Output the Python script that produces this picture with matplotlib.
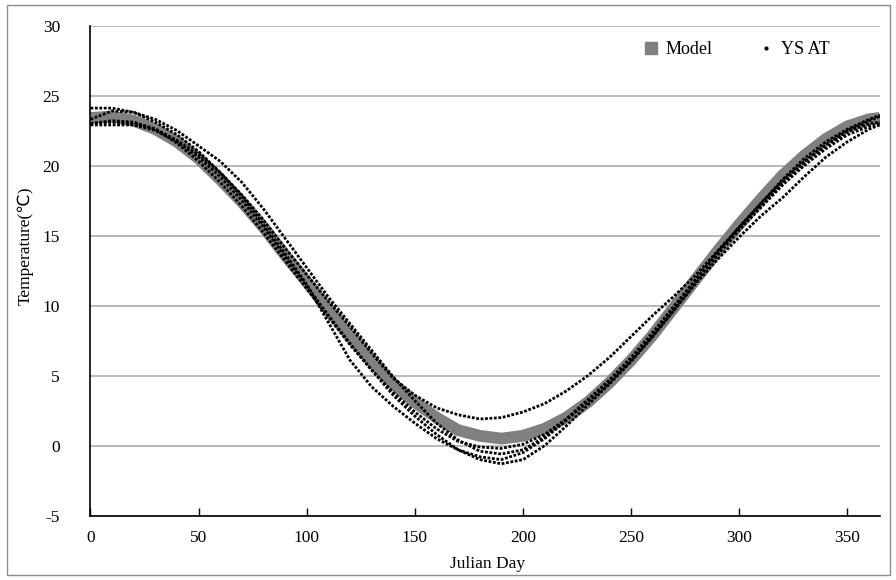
import matplotlib
matplotlib.use("Agg")
import matplotlib.pyplot as plt
from matplotlib.lines import Line2D
from matplotlib.patches import Rectangle

plt.rcParams['font.family'] = ['Liberation Serif', 'DejaVu Sans']
plt.rcParams['axes.unicode_minus'] = False

# Julian day sampling (read every 10 days off the picture)
days = [0, 10, 20, 30, 40, 50, 60, 70, 80, 90, 100, 110, 120, 130, 140, 150, 160, 170, 180,
        190, 200, 210, 220, 230, 240, 250, 260, 270, 280, 290, 300, 310, 320, 330, 340, 350, 360, 365]

model = [23.4, 23.5, 23.2, 22.6, 21.7, 20.5, 19.0, 17.4, 15.6, 13.6, 11.7, 9.7, 7.8, 6.0, 4.4, 3.1, 2.0, 1.1, 0.7,
         0.5, 0.7, 1.2, 2.0, 3.1, 4.5, 6.1, 7.9, 9.9, 11.9, 13.9, 15.8, 17.6, 19.3, 20.7, 21.9, 22.8, 23.3, 23.4]

# observed (YS AT), one list per year
obs1 = [23.0, 23.1, 23.0, 22.6, 21.8, 20.8, 19.5, 17.9, 16.1, 14.1, 12.2, 10.3, 8.5, 6.6, 4.8, 3.6, 2.7, 2.2, 1.9,
        2.0, 2.4, 3.0, 3.9, 5.0, 6.3, 7.8, 9.3, 10.7, 12.2, 13.9, 15.6, 17.3, 19.0, 20.5, 21.7, 22.6, 23.3, 23.6]
obs2 = [24.1, 24.1, 23.8, 23.1, 22.2, 21.0, 19.5, 17.8, 15.8, 13.7, 11.5, 8.8, 6.1, 4.2, 2.8, 1.6, 0.5, -0.3, -0.8,
        -1.0, -0.5, 0.5, 1.8, 3.2, 4.6, 6.1, 7.8, 9.7, 11.7, 13.6, 15.4, 17.0, 18.6, 20.0, 21.2, 22.2, 22.8, 23.0]
obs3 = [22.9, 22.9, 22.9, 22.5, 21.7, 20.6, 19.2, 17.5, 15.6, 13.5, 11.4, 9.3, 7.3, 5.4, 3.6, 2.1, 0.8, -0.3, -1.0,
        -1.3, -1.0, 0.0, 1.4, 2.9, 4.4, 6.0, 7.8, 9.7, 11.6, 13.3, 14.9, 16.4, 17.7, 19.2, 20.6, 21.7, 22.6, 22.9]
obs4 = [23.3, 23.9, 23.8, 23.3, 22.5, 21.4, 20.3, 18.8, 16.9, 14.8, 12.7, 10.6, 8.7, 6.8, 4.9, 3.2, 1.6, 0.4, -0.4,
        -0.6, -0.3, 0.6, 1.9, 3.3, 4.7, 6.3, 8.1, 10.0, 11.9, 13.8, 15.6, 17.2, 18.8, 20.2, 21.4, 22.4, 23.0, 23.1]
obs5 = [23.0, 23.2, 23.1, 22.6, 21.6, 20.3, 18.8, 17.1, 15.2, 13.2, 11.2, 9.2, 7.2, 5.4, 3.8, 2.4, 1.2, 0.3, -0.1,
        -0.2, 0.1, 0.8, 1.9, 3.1, 4.5, 6.1, 7.9, 9.9, 11.9, 13.8, 15.6, 17.3, 18.9, 20.3, 21.5, 22.5, 23.2, 23.5]

fig = plt.figure(figsize=(8.96, 5.80), dpi=100)
ax = fig.add_axes([0.101, 0.111, 0.881, 0.845])

# outer chart border
fig.patches.append(Rectangle((0.008, 0.009), 0.985, 0.982, transform=fig.transFigure,
                             fill=False, edgecolor='#8c8c8c', linewidth=1.0))

ax.plot(days, model, color='#808080', linewidth=8.5, solid_capstyle='butt', zorder=2)
for obs in [obs1, obs2, obs3, obs4, obs5]:
    ax.plot(days, obs, color='black', linewidth=2.0, linestyle=(0, (1, 0.6)), zorder=3)

ax.set_xlim(0, 365)
ax.set_ylim(-5, 30)
ax.set_xticks(range(0, 351, 50))
ax.set_yticks(range(-5, 31, 5))
ax.grid(axis='y', color='#ababab', linewidth=1.2)
ax.set_axisbelow(True)
for s in ['top', 'right']:
    ax.spines[s].set_visible(False)
for s in ['left', 'bottom']:
    ax.spines[s].set_linewidth(1.2)
ax.tick_params(axis='x', direction='in', length=6, width=1, pad=10, labelsize=12.5)
ax.tick_params(axis='y', length=0, pad=22, labelsize=12.5)

ax.set_xlabel("Julian Day", fontsize=12.5)
ax.xaxis.set_label_coords(0.503, -0.082)
ax.set_ylabel("Temperature(℃)", fontsize=12.5)
ax.yaxis.set_label_coords(-0.072, 0.55)

handles = [Line2D([], [], linestyle='none', marker='s', markersize=8, color='#808080'),
           Line2D([], [], linestyle='none', marker='.', markersize=4, color='black')]
ax.legend(handles, ["Model", "YS AT"], ncol=2, frameon=False, fontsize=13,
          handlelength=0.8, handletextpad=0.4, columnspacing=2.6,
          loc='center', bbox_to_anchor=(0.822, 0.914), bbox_transform=fig.transFigure)

fig.savefig("out.png", dpi=100)
